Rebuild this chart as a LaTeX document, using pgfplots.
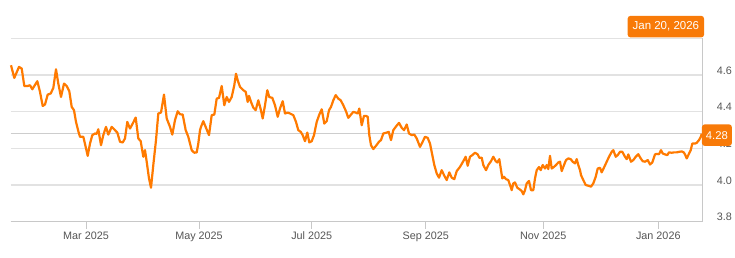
\documentclass[border=0pt]{standalone}
\usepackage{pgfplots}
\pgfplotsset{compat=1.18}
\usepackage{fontspec}
\setmainfont{Liberation Sans}
\definecolor{lineor}{RGB}{255,122,0}
\definecolor{tagor}{RGB}{248,122,8}
\definecolor{gridc}{RGB}{226,226,226}
\definecolor{curc}{RGB}{205,205,205}
\definecolor{axc}{RGB}{200,200,200}
\definecolor{txt}{RGB}{85,85,85}
\begin{document}
\begin{tikzpicture}
\useasboundingbox (0,0) rectangle (735pt,257pt);
\begin{axis}[
  at={(10.5pt,35.3pt)}, anchor=south west,
  scale only axis, width=692.2pt, height=183.4pt,
  xmin=10.5, xmax=702.7, ymin=3.8, ymax=4.8,
  axis x line*=bottom, axis y line*=right,
  axis line style={-, draw=axc, line width=0.9pt},
  xtick={86,199,311.7,425.7,543.3,658.3},
  xticklabels={Mar 2025, May 2025, Jul 2025, Sep 2025, Nov 2025, Jan 2026},
  tick align=outside,
  major tick length=7pt,
  xtick style={draw=axc, line width=0.9pt},
  ytick={3.8,4.0,4.2,4.4,4.6,4.8},
  yticklabels={3.8,4.0,4.2,4.4,4.6,},
  ytick style={draw=none},
  ymajorgrids,
  major grid style={draw=gridc, line width=1.3pt},
  xticklabel style={font=\fontsize{10.8}{12}\selectfont, text=txt, anchor=north, inner sep=0pt, yshift=-3pt},
  yticklabel style={font=\fontsize{10.8}{12}\selectfont, text=txt, anchor=west, inner sep=0pt, xshift=7pt, yshift=4.5pt},
  extra y ticks={4.28}, extra y tick labels={},
  extra y tick style={major grid style={draw=curc, line width=1.3pt}},
  clip=false,
]
\addplot[lineor, line width=2.2pt, line join=round] coordinates {
(11.0,4.653) (14.3,4.584) (19.0,4.644) (21.7,4.635) (24.3,4.540) (27.7,4.540) (30.0,4.544) (32.3,4.522) (37.3,4.566) (40.0,4.508)
(42.7,4.431) (45.0,4.439) (47.7,4.493) (50.7,4.499) (53.3,4.529) (56.0,4.631) (58.3,4.553) (61.0,4.480) (64.0,4.553) (66.7,4.540)
(69.3,4.511) (71.7,4.426) (74.0,4.408) (76.0,4.344) (78.3,4.294) (80.0,4.263) (83.3,4.263) (85.3,4.217) (87.7,4.159) (90.0,4.226)
(92.3,4.272) (95.0,4.281) (96.7,4.279) (98.3,4.304) (101.0,4.217) (103.3,4.272)
(106.0,4.317) (108.3,4.275) (111.7,4.317) (115.0,4.299) (117.3,4.286) (120.0,4.236) (122.7,4.232) (125.0,4.254) (127.3,4.344) (130.0,4.308)
(132.7,4.335) (135.7,4.368) (138.3,4.254) (140.7,4.239) (143.3,4.154) (145.0,4.190) (146.7,4.127) (149.0,4.036) (151.0,3.985) (153.3,4.109)
(156.0,4.245) (158.3,4.390) (161.0,4.395) (164.0,4.493) (166.7,4.363) (170.0,4.317) (172.3,4.275) (175.0,4.354) (177.7,4.402) (180.0,4.386)
(182.7,4.384) (185.7,4.299) (188.3,4.263) (191.7,4.190) (194.3,4.176) (196.7,4.178) (198.3,4.226) (200.0,4.299)
(201.0,4.317) (203.3,4.348) (206.0,4.312) (209.0,4.272) (211.7,4.381) (214.3,4.384) (216.7,4.471) (219.0,4.475) (221.7,4.540) (224.3,4.435)
(226.7,4.480) (229.0,4.453) (231.7,4.480) (234.3,4.544) (236.0,4.607) (237.7,4.571) (240.0,4.535) (243.3,4.517) (245.7,4.508) (247.7,4.453)
(249.0,4.486) (251.0,4.453) (253.3,4.422) (255.7,4.408) (258.3,4.462) (260.7,4.413) (262.7,4.363) (265.0,4.435) (267.3,4.517) (269.3,4.480)
(272.3,4.475) (275.0,4.435) (277.7,4.372) (280.0,4.417) (282.7,4.457) (285.0,4.390) (287.7,4.395) (290.0,4.390) (293.3,4.381)
(296.0,4.344) (298.3,4.299) (300.7,4.290) (302.7,4.272) (305.0,4.239) (307.3,4.286) (309.3,4.232) (311.7,4.239) (314.0,4.272) (316.7,4.344)
(319.3,4.384) (321.7,4.413) (324.3,4.335) (326.7,4.348) (329.0,4.408) (331.0,4.426) (333.3,4.462) (335.7,4.490) (338.3,4.471) (340.7,4.462)
(343.3,4.435) (346.0,4.402) (348.3,4.366) (351.0,4.384) (353.3,4.399) (355.7,4.395) (357.7,4.390) (359.3,4.417) (361.7,4.326) (364.0,4.377)
(366.0,4.377) (367.7,4.372) (369.3,4.272) (371.0,4.217) (373.3,4.196) (376.0,4.214) (379.0,4.236) (381.0,4.245) (383.3,4.281) (386.7,4.286)
(388.7,4.290)
(391.0,4.245) (393.3,4.299) (395.7,4.317) (399.0,4.339) (401.7,4.312) (404.0,4.299) (406.7,4.330) (409.0,4.281) (411.7,4.272) (414.3,4.275)
(416.7,4.254) (420.0,4.208) (422.3,4.232) (425.0,4.263) (427.7,4.257) (430.0,4.226) (432.3,4.163) (434.3,4.109) (436.7,4.063) (439.0,4.040)
(441.7,4.081) (444.0,4.054) (446.7,4.027) (449.3,4.069) (451.7,4.040) (454.3,4.032) (456.7,4.076) (460.0,4.099) (463.3,4.130) (465.7,4.154)
(467.7,4.105) (470.0,4.154) (472.3,4.163) (475.0,4.176) (477.7,4.167) (479.3,4.149) (481.7,4.149) (483.3,4.109) (486.0,4.081)
(488.3,4.109) (491.0,4.130) (493.3,4.154) (495.7,4.130) (497.3,4.123) (499.3,4.141) (501.0,4.081) (502.3,4.036) (504.0,4.045) (506.0,4.032)
(508.3,4.027) (510.0,4.000) (511.7,3.972) (513.3,4.009) (515.0,4.014) (517.3,3.985) (519.3,3.978) (521.7,3.967) (523.3,3.949) (525.0,3.972)
(526.7,4.009) (529.0,4.022) (531.0,3.972) (533.3,3.972) (535.0,4.036) (536.7,4.081) (539.0,4.098) (540.7,4.081) (542.7,4.109) (545.0,4.090)
(546.7,4.109) (548.3,4.087) (550.0,4.159) (551.7,4.090) (554.0,4.099) (556.0,4.109) (558.3,4.123) (560.0,4.127) (561.7,4.076) (564.0,4.109)
(566.0,4.136) (568.3,4.145) (570.7,4.141) (572.7,4.127) (575.0,4.118) (576.7,4.141) (578.3,4.109) (580.0,4.081)
(581.0,4.054) (583.3,4.027) (585.7,4.000) (588.3,3.996) (591.0,3.991) (593.3,4.009) (595.7,4.045) (597.7,4.090) (600.0,4.094) (601.7,4.069)
(604.3,4.099) (606.7,4.127) (609.0,4.154) (611.7,4.181) (613.3,4.190) (615.7,4.154) (617.7,4.163) (620.0,4.181) (622.3,4.181) (625.0,4.154)
(626.7,4.141) (628.3,4.167) (631.0,4.127) (633.3,4.136) (635.7,4.154) (638.3,4.168) (640.7,4.145) (642.7,4.130) (645.0,4.127) (647.7,4.136)
(650.0,4.112) (652.3,4.123) (655.0,4.167) (656.7,4.170) (659.0,4.168) (661.0,4.190) (662.7,4.172) (665.0,4.167) (667.3,4.163) (669.0,4.178)
(671.7,4.176) (674.0,4.178) (676.7,4.178) (679.0,4.181) (681.7,4.183) (683.7,4.178) (685.0,4.167) (686.7,4.145) (688.3,4.163) (690.7,4.190)
(692.3,4.226) (695.0,4.226) (696.7,4.230) (699.0,4.245) (701.0,4.265) (701.7,4.280)
};
\coordinate (vtag) at (axis cs:701.7,4.272);
\coordinate (dtag) at (axis cs:704.3,4.8);
\end{axis}
\node[fill=tagor, text=white, rounded corners=3pt, inner xsep=4pt, inner ysep=0pt, minimum height=21.7pt, anchor=west, font=\fontsize{11.3}{13}\selectfont] at (vtag) {4.28};
\node[fill=tagor, text=white, rounded corners=3pt, inner xsep=5pt, inner ysep=0pt, minimum height=21.7pt, anchor=south east, font=\fontsize{11.5}{13}\selectfont] at ([yshift=0.6pt]dtag) {Jan 20, 2026};
\end{tikzpicture}
\end{document}
